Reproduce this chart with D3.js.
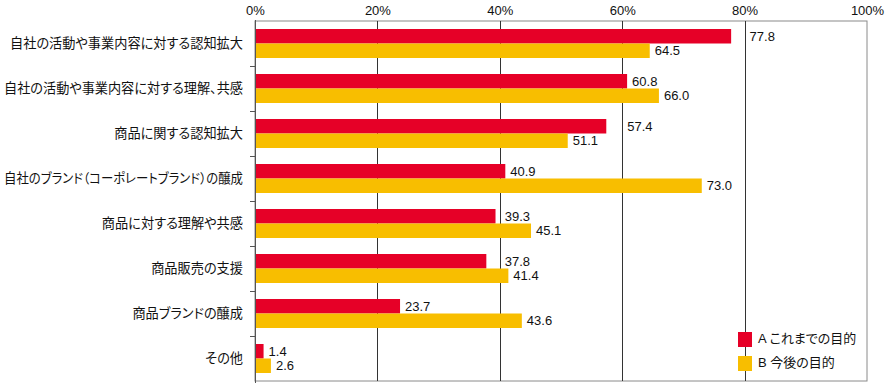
<!DOCTYPE html>
<html><head><meta charset="utf-8">
<script src="https://cdn.jsdelivr.net/npm/d3@7"></script>
<style>body{margin:0;background:#fff}svg{display:block}</style>
</head><body><svg id="c" width="893" height="389"></svg>
<script>
const categories = ["自社の活動や事業内容に対する認知拡大","自社の活動や事業内容に対する理解、共感","商品に関する認知拡大","自社のブランド（コーポレートブランド）の醸成","商品に対する理解や共感","商品販売の支援","商品ブランドの醸成","その他"];
const seriesA = [77.8,60.8,57.4,40.9,39.3,37.8,23.7,1.4];
const seriesB = [64.5,66.0,51.1,73.0,45.1,41.4,43.6,2.6];
const seriesNames = ["A これまでの目的","B 今後の目的"];
const tickValues = [0,20,40,60,80,100];
const colors = ["#e60027","#f8be00"];

const svg = d3.select("#c");
const L = 255, R = 867, T = 21, B = 381;
const x = d3.scaleLinear().domain([0,100]).range([L,R]);
const y = d3.scaleBand().domain(categories).range([T,B]);
const jp = "'Liberation Sans','Noto Sans CJK JP',sans-serif";

// frame
svg.append("rect").attr("x",L).attr("y",T).attr("width",R-L).attr("height",B-T)
  .attr("fill","none").attr("stroke","#8a8a8a").attr("stroke-width",1);
// gridlines
[20,40,60,80].forEach(v=>{
  svg.append("line").attr("x1",Math.round(x(v))+0.5).attr("x2",Math.round(x(v))+0.5)
    .attr("y1",T).attr("y2",B).attr("stroke","#333").attr("stroke-width",1);
});
// top axis
const topAxis = d3.axisTop(x).tickValues(tickValues).tickFormat(d=>d+"%").tickSize(0).tickPadding(6);
const ga = svg.append("g").attr("transform",`translate(0,${T})`).call(topAxis);
ga.select(".domain").remove();
ga.selectAll("text").attr("font-family",jp).attr("font-size",13).attr("fill","#111");

// bars
const bh = 14.5;
const groups = svg.append("g");
const labelSize = 13;
function labelX(v){
  let lx = x(v)+5, w = 28;
  for(const g of [20,40,60,80]){ const gx=x(g); if(lx<=gx+1 && lx+w>=gx){ lx = gx+5; } }
  return lx;
}
categories.forEach((c,i)=>{
  const y0 = y(c)+8;
  [seriesA[i],seriesB[i]].forEach((v,j)=>{
    groups.append("rect").attr("x",x(0)).attr("y",y0+j*bh).attr("width",x(v)-x(0)).attr("height",bh)
      .attr("fill",colors[j]);
    groups.append("text").attr("x",labelX(v)).attr("y",y0+j*bh+bh/2+1)
      .attr("dominant-baseline","middle").attr("font-family",jp).attr("font-size",labelSize)
      .attr("fill","#111").text(v.toFixed(1));
  });
});

// left axis
const leftAxis = d3.axisLeft(y).tickSize(0).tickPadding(12);
const gl = svg.append("g").attr("transform",`translate(${L},0)`).call(leftAxis);
gl.select(".domain").remove();
gl.selectAll("text").attr("font-family","'Noto Sans CJK JP',sans-serif").attr("font-size",13.2)
  .style("font-feature-settings","'palt' 1").attr("fill","#111")
  .each(function(){
    const w = this.getComputedTextLength();
    if (w > 239) d3.select(this).attr("textLength",239).attr("lengthAdjust","spacingAndGlyphs");
  });
svg.append("line").attr("x1",L+0.5).attr("x2",L+0.5).attr("y1",T-1).attr("y2",B+2).attr("stroke","#555");
const bounds = categories.map(c=>y(c)+y.bandwidth()).slice(0,-1);
bounds.forEach(b=>{
  svg.append("line").attr("x1",L-5).attr("x2",L).attr("y1",Math.round(b)+0.5).attr("y2",Math.round(b)+0.5).attr("stroke","#555");
});

// legend
seriesNames.forEach((n,i)=>{
  const ly = 332+i*24;
  svg.append("rect").attr("x",738).attr("y",ly).attr("width",14).attr("height",15).attr("fill",colors[i]);
  svg.append("text").attr("x",758).attr("y",ly+8).attr("dominant-baseline","middle")
    .attr("font-family",jp).style("font-feature-settings","'palt' 1")
    .attr("font-size",13).attr("fill","#111").text(n);
});
</script></body></html>
